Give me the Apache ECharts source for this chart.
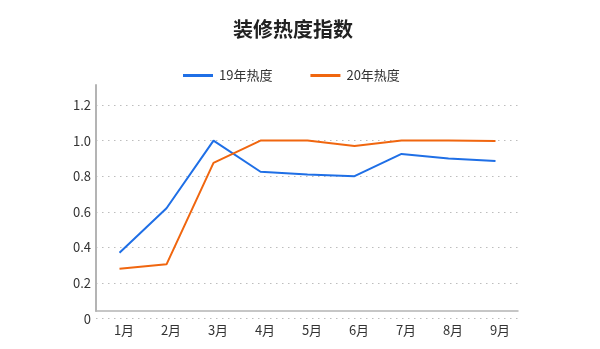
<!DOCTYPE html>
<html>
<head>
<meta charset="utf-8">
<script src="https://cdn.jsdelivr.net/npm/echarts@6/dist/echarts.min.js"></script>
<style>
  html, body { margin: 0; padding: 0; background: #fff; }
  #chart { width: 600px; height: 349px; }
</style>
</head>
<body>
<div id="chart"></div>
<script>
// Monthly renovation popularity index, 2019 vs 2020
const months = ['1月', '2月', '3月', '4月', '5月', '6月', '7月', '8月', '9月'];
const heat19 = [0.37, 0.62, 1.0, 0.825, 0.81, 0.80, 0.925, 0.90, 0.885];
const heat20 = [0.28, 0.305, 0.875, 1.0, 1.0, 0.97, 1.0, 1.0, 0.998];
const yTicks = { min: 0, max: 1.2, step: 0.2 };

const FONT = '"Noto Sans CJK SC", "Noto Sans", sans-serif';
const BLUE = '#1f6fe6';
const ORANGE = '#f0660f';
const AXIS_GREY = '#b4b4b4';

const chart = echarts.init(document.getElementById('chart'));
chart.setOption({
  backgroundColor: '#fff',
  animation: false,
  title: {
    text: '装修热度指数',
    left: 228,
    top: 14,
    textStyle: { fontFamily: FONT, fontSize: 20, fontWeight: 'bold', color: '#222' }
  },
  legend: {
    left: 178,
    top: 64,
    icon: 'rect',
    itemWidth: 30,
    itemHeight: 3,
    itemGap: 38,
    textStyle: { fontFamily: FONT, fontSize: 13, color: '#333', padding: [0, 0, 0, 1] },
    data: ['19年热度', '20年热度']
  },
  grid: [
    // plotting area
    { left: 96, right: 81, top: 105, bottom: 30.4 },
    // outer frame drawn by the axis lines
    { left: 96, right: 82, top: 85, bottom: 38 }
  ],
  xAxis: [
    {
      type: 'category',
      gridIndex: 0,
      data: months,
      boundaryGap: true,
      axisLine: { show: false },
      axisTick: { show: false },
      axisLabel: {
        margin: 5,
        padding: [0, 0, 0, 9],
        fontFamily: FONT, fontSize: 13, color: '#333'
      }
    },
    {
      type: 'value',
      gridIndex: 1,
      min: 0, max: 1,
      axisLine: { show: true, onZero: false, lineStyle: { color: AXIS_GREY, width: 1.5 } },
      axisTick: { show: false },
      axisLabel: { show: false },
      splitLine: { show: false }
    }
  ],
  yAxis: [
    {
      type: 'value',
      gridIndex: 0,
      min: yTicks.min,
      max: yTicks.max,
      interval: yTicks.step,
      axisLine: { show: false },
      axisTick: { show: false },
      axisLabel: {
        margin: 5,
        fontFamily: FONT, fontSize: 13, color: '#333',
        formatter: v => (v === 0 ? '0' : v.toFixed(1))
      },
      splitLine: {
        show: true,
        lineStyle: { color: '#bdbdbd', type: [1.5, 4.5], width: 1.2 }
      }
    },
    {
      type: 'value',
      gridIndex: 1,
      min: 0, max: 1,
      axisLine: { show: true, onZero: false, lineStyle: { color: AXIS_GREY, width: 2 } },
      axisTick: { show: false },
      axisLabel: { show: false },
      splitLine: { show: false }
    }
  ],
  series: [
    {
      name: '19年热度',
      type: 'line',
      xAxisIndex: 0,
      yAxisIndex: 0,
      data: heat19,
      showSymbol: false,
      symbol: 'none',
      lineStyle: { color: BLUE, width: 2 },
      itemStyle: { color: BLUE }
    },
    {
      name: '20年热度',
      type: 'line',
      xAxisIndex: 0,
      yAxisIndex: 0,
      data: heat20,
      showSymbol: false,
      symbol: 'none',
      lineStyle: { color: ORANGE, width: 2 },
      itemStyle: { color: ORANGE }
    }
  ]
});
</script>
</body>
</html>
